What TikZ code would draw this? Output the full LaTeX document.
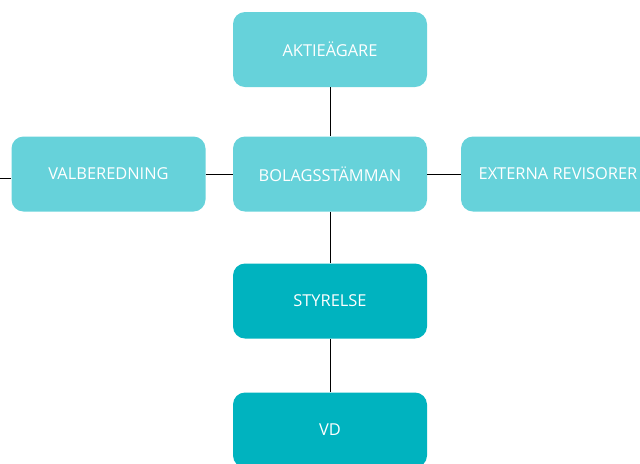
\documentclass[tikz,border=0pt]{standalone}
\usepackage{fontspec}
\setmainfont{Open Sans}
\usetikzlibrary{positioning}

\definecolor{ljustturkos}{HTML}{66D2DA}
\definecolor{morkturkos}{HTML}{00B3BF}

\begin{document}
\begin{tikzpicture}[x=0.03cm,y=-0.03cm]

\tikzset{
  % boxes of the organisation chart
  orgbox/.style={rounded corners=12*0.03cm, minimum width=194*0.03cm,
    minimum height=75*0.03cm, text=white, inner sep=0pt,
    font=\fontsize{14}{16}\selectfont},
  ljusbox/.style={orgbox, fill=ljustturkos},
  morkbox/.style={orgbox, fill=morkturkos},
  linje/.style={draw=black, line width=0.6pt},
}

\useasboundingbox (0,0) rectangle (640,463);
\clip (0,0) rectangle (640,463);

\node (aktie) [ljusbox] at (330,49.5) {AKTIEÄGARE};
\node (bolag) [ljusbox] at (330,174) {BOLAGSSTÄMMAN};
\node (val)   [ljusbox] at (108.5,174) {VALBEREDNING};
\node (ext)   [ljusbox] at (558,174) {EXTERNA REVISORER};
\node (styr)  [morkbox] at (330,301) {STYRELSE};
\node (vd)    [morkbox] at (330,430) {VD};

\coordinate (stub) at (-10,178);

\draw [linje] (aktie) -- (bolag);
\draw [linje] (val) -- (bolag);
\draw [linje] (bolag) -- (ext);
\draw [linje] (bolag) -- (styr);
\draw [linje] (styr) -- (vd);
\draw [linje] (stub) -- (stub -| val.west);

\end{tikzpicture}
\end{document}
